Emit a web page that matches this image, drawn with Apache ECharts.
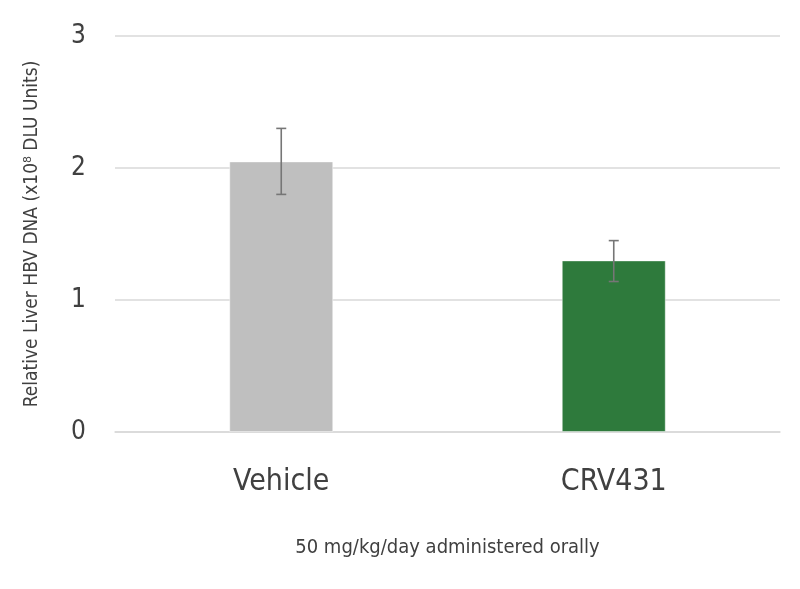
<!DOCTYPE html>
<html>
<head>
<meta charset="utf-8">
<script src="https://cdn.jsdelivr.net/npm/echarts@6/dist/echarts.min.js"></script>
<style>
html, body { margin: 0; padding: 0; background: #fff; }
#chart { width: 800px; height: 589px; }
</style>
</head>
<body>
<div id="chart"></div>
<script>
var categories = ['Vehicle', 'CRV431'];
var means = [2.05, 1.30];
var errLow = [1.80, 1.14];
var errHigh = [2.30, 1.45];
var barColors = ['#bfbfbf', '#2e7a3c'];
var yTicks = [0, 1, 2, 3];

var font = '"Liberation Sans Narrow", "DejaVu Sans Condensed", "Roboto", sans-serif';
var textColor = '#404040';

var chart = echarts.init(document.getElementById('chart'));

var barData = means.map(function (v, i) {
    return { value: v, itemStyle: { color: barColors[i] } };
});
var errData = categories.map(function (c, i) {
    return [i, errLow[i], errHigh[i]];
});

var option = {
    animation: false,
    grid: {
        left: 115,
        right: 20,
        top: 36,
        bottom: 157
    },
    xAxis: {
        type: 'category',
        data: categories,
        name: '50 mg/kg/day administered orally',
        nameLocation: 'middle',
        nameGap: 106,
        nameTextStyle: {
            fontFamily: font,
            fontSize: 20,
            color: textColor
        },
        axisLine: { lineStyle: { color: '#d9d9d9', width: 1.5 } },
        axisTick: { show: false },
        axisLabel: {
            fontFamily: font,
            fontSize: 30,
            color: textColor,
            margin: 35
        }
    },
    yAxis: {
        type: 'value',
        min: yTicks[0],
        max: yTicks[yTicks.length - 1],
        interval: 1,
        name: 'Relative Liver HBV DNA (x10\u2078 DLU Units)',
        nameLocation: 'middle',
        nameGap: 73,
        nameTextStyle: {
            fontFamily: font,
            fontSize: 19,
            color: textColor
        },
        axisLine: { show: false },
        axisTick: { show: false },
        splitLine: { lineStyle: { color: '#d9d9d9', width: 1.5 } },
        axisLabel: {
            fontFamily: font,
            fontSize: 26,
            color: textColor,
            margin: 29
        }
    },
    series: [
        {
            type: 'bar',
            data: barData,
            barWidth: 104,
            itemStyle: {
                borderColor: 'rgba(255,255,255,0.45)',
                borderWidth: 1
            }
        },
        {
            type: 'custom',
            data: errData,
            z: 10,
            renderItem: function (params, api) {
                var x = api.value(0);
                var lo = api.coord([x, api.value(1)]);
                var hi = api.coord([x, api.value(2)]);
                var cap = 5;
                var style = { stroke: '#767676', lineWidth: 1.6 };
                return {
                    type: 'group',
                    children: [
                        { type: 'line', shape: { x1: lo[0], y1: lo[1], x2: hi[0], y2: hi[1] }, style: style },
                        { type: 'line', shape: { x1: hi[0] - cap, y1: hi[1], x2: hi[0] + cap, y2: hi[1] }, style: style },
                        { type: 'line', shape: { x1: lo[0] - cap, y1: lo[1], x2: lo[0] + cap, y2: lo[1] }, style: style }
                    ]
                };
            }
        }
    ]
};

chart.setOption(option);
</script>
</body>
</html>
